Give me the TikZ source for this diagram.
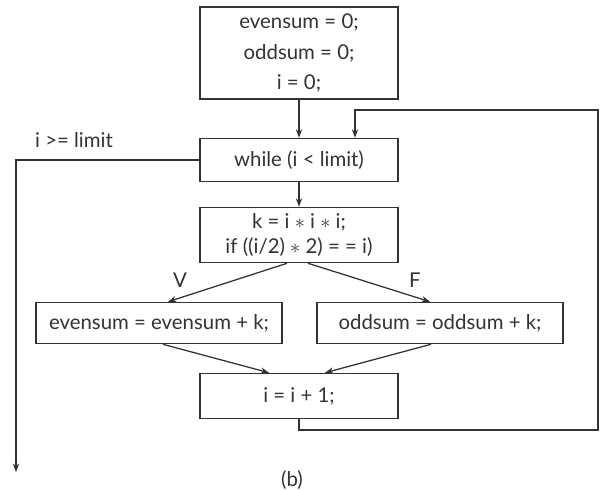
\documentclass[tikz,border=0pt]{standalone}
\usepackage{fontspec}
\setmainfont{Lato}
\usetikzlibrary{arrows.meta,calc}

\begin{document}
\begin{tikzpicture}[x=0.025cm, y=-0.025cm, >={Stealth[length=6pt,width=4.5pt]},
  line width=0.9pt, draw=black!80,
  box/.style={draw=black!80, line width=1.1pt, inner sep=0pt, align=center,
    text=black!80, font=\fontsize{14.5}{17.5}\selectfont},
  lbl/.style={text=black!80, font=\fontsize{14.5}{17.5}\selectfont}]

  \useasboundingbox (0,0) rectangle (602,489);

  % Define coordinates for nodes
  \node[box, minimum width=4.95cm, minimum height=2.3cm] (init) at (299,53)
    {evensum = 0;\\[4pt] oddsum = 0;\\[4pt] i = 0;};
  \node[box, minimum width=4.95cm, minimum height=1.075cm] (while) at (299,160)
    {while (i < limit)};
  \node[box, minimum width=4.95cm, minimum height=1.375cm] (test) at (299,235)
    {k = i $*$ i $*$ i;\\ if ((i/2) $*$ 2) = = i)};
  \node[box, minimum width=6.15cm, minimum height=1.025cm] (even) at (159,323)
    {evensum = evensum + k;};
  \node[box, minimum width=6.15cm, minimum height=1.025cm] (odd) at (440,323)
    {oddsum = oddsum + k;};
  \node[box, minimum width=4.95cm, minimum height=1.125cm] (inc) at (299,396)
    {i = i + 1;};
  \node[lbl] (exitlbl) at (74,140) {i >= limit};
  \node[lbl] (vlbl) at (180,280) {V};
  \node[lbl] (flbl) at (415,280) {F};
  \node[lbl] (caption) at (292,480) {(b)};
  \coordinate (exit) at (16,472);
  \coordinate (loopB) at (598,430);
  \coordinate (loopT) at (598,110);

  % Draw arrows between nodes
  \draw[->] (init) -- (while);
  \draw[->] (while) -- (test);
  \draw[->] ($(test.south)+(-12,0)$) -- ($(even.north)+(9,0)$);
  \draw[->] ($(test.south)+(9,0)$) -- ($(odd.north)+(-10,0)$);
  \draw[->] ($(even.south)+(4,0)$) -- ($(inc.north)+(-30,0)$);
  \draw[->] ($(odd.south)+(-9,0)$) -- ($(inc.north)+(26,0)$);
  \draw[->] (inc.south) |- (loopB) -- (loopT) -| ($(while.north)+(56,0)$);
  \draw[->] (while.west) -| (exit);
\end{tikzpicture}
\end{document}
